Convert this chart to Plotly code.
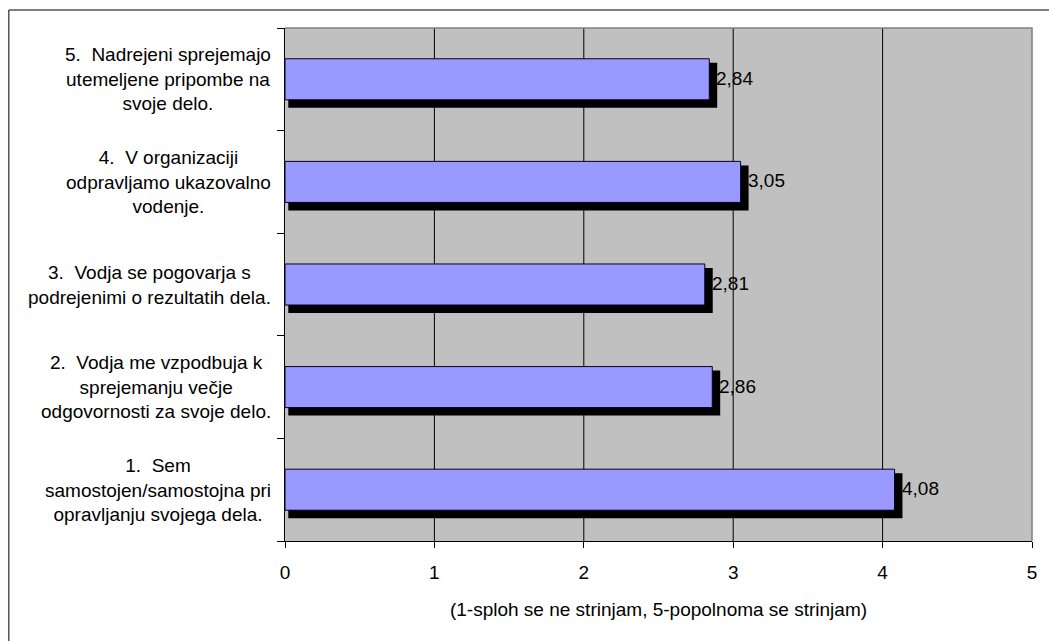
import plotly.graph_objects as go

# Survey items (bottom to top) and their mean scores
categories = [
    "1.\u00a0 Sem<br>samostojen/samostojna pri<br>opravljanju svojega dela.",
    "2.\u00a0 Vodja me vzpodbuja k<br>sprejemanju večje<br>odgovornosti za svoje delo.",
    "3.\u00a0 Vodja se pogovarja s<br>podrejenimi o rezultatih dela.",
    "4.\u00a0 V organizaciji<br>odpravljamo ukazovalno<br>vodenje.",
    "5.\u00a0 Nadrejeni sprejemajo<br>utemeljene pripombe na<br>svoje delo.",
]
values = [4.08, 2.86, 2.81, 3.05, 2.84]
value_labels = ["4,08", "2,86", "2,81", "3,05", "2,84"]
x_ticks = [0, 1, 2, 3, 4, 5]
x_title = "(1-sploh se ne strinjam, 5-popolnoma se strinjam)"

FONT = "Liberation Sans, Arial, sans-serif"
FS = 19

W, H = 1049, 641
ML, MR, MT, MB = 285, 12, 28, 100
pw = W - ML - MR
ph = H - MT - MB

fig = go.Figure()

# drop shadow behind each bar
fig.add_trace(go.Bar(
    y=categories,
    x=[v + 0.031 for v in values],
    base=[0.022] * len(values),
    orientation="h",
    offset=-0.278,
    width=0.439,
    marker=dict(color="#000000", line=dict(width=0)),
    hoverinfo="skip",
    showlegend=False,
))

# main bars
fig.add_trace(go.Bar(
    y=categories,
    x=values,
    orientation="h",
    offset=-0.2,
    width=0.4,
    marker=dict(color="#9999FF", line=dict(color="#000020", width=1)),
    showlegend=False,
))

annotations = []
# category labels, centred multi-line blocks left of the axis
for c in categories:
    annotations.append(dict(
        x=0, xref="paper", y=c, yref="y",
        xanchor="right", yanchor="middle", align="center",
        xshift=-12, text=c, showarrow=False,
        font=dict(family=FONT, size=FS, color="#000000"),
    ))
# value labels at bar ends
for c, v, t in zip(categories, values, value_labels):
    annotations.append(dict(
        x=v, xref="x", y=c, yref="y",
        xanchor="left", yanchor="middle",
        xshift=5, yshift=1, text=t, showarrow=False,
        font=dict(family=FONT, size=FS, color="#000000"),
    ))

shapes = []
# vertical gridlines
for g in [1, 2, 3, 4]:
    shapes.append(dict(
        type="line", xref="x", yref="paper", x0=g, x1=g, y0=0, y1=1,
        line=dict(color="#000000", width=1), layer="below",
    ))
# grey plot-area frame (top and right)
shapes.append(dict(
    type="path", xref="paper", yref="paper",
    path="M 0,1 L 1,1 L 1,0",
    line=dict(color="#808080", width=1.5), layer="above",
))
# outer chart border, running off the right and bottom edges
shapes.append(dict(
    type="rect", xref="paper", yref="paper",
    x0=(7 - ML) / pw, x1=(W + 10 - ML) / pw,
    y0=-(MB + 10) / ph, y1=1 + (MT - 10) / ph,
    line=dict(color="#000000", width=1), layer="above",
))

fig.update_layout(
    width=W, height=H,
    margin=dict(l=ML, r=MR, t=MT, b=MB),
    paper_bgcolor="#FFFFFF",
    plot_bgcolor="#C0C0C0",
    barmode="overlay",
    font=dict(family=FONT, size=FS, color="#000000"),
    xaxis=dict(
        range=[0, 5],
        tickvals=x_ticks,
        ticktext=[str(t) for t in x_ticks],
        showgrid=False, zeroline=False,
        showline=True, linecolor="#000000", linewidth=1,
        ticks="outside", ticklen=6, tickcolor="#000000", tickwidth=1,
        ticklabelstandoff=8,
        tickfont=dict(family=FONT, size=FS, color="#000000"),
        title=dict(text=x_title, standoff=20,
                   font=dict(family=FONT, size=FS, color="#000000")),
        fixedrange=True,
    ),
    yaxis=dict(
        type="category",
        categoryorder="array", categoryarray=categories,
        range=[-0.5, len(categories) - 0.5],
        showticklabels=False,
        tickson="boundaries",
        showgrid=False, zeroline=False,
        showline=True, linecolor="#000000", linewidth=1,
        ticks="outside", ticklen=7, tickcolor="#000000", tickwidth=1,
        fixedrange=True,
    ),
    annotations=annotations,
    shapes=shapes,
)

fig.write_html("out.html")
